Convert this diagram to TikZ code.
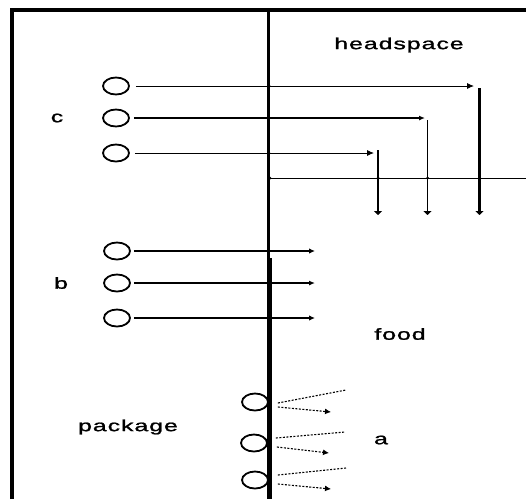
\documentclass[tikz,border=0pt]{standalone}
\usepackage{fontspec}
\usepackage{graphicx}
\setmainfont{Liberation Sans}[LetterSpace=4,FakeBold=1.2]
\usetikzlibrary{shapes.geometric,arrows.meta}
\newcommand{\wide}[1]{\scalebox{1.55}[1]{#1}}
\begin{document}
\begin{tikzpicture}[x=1pt,y=-1pt,
  hole/.style={ellipse,draw,line width=1.8pt,minimum width=26pt,minimum height=17pt,inner sep=0pt},
  lbl/.style={font=\fontsize{16}{18}\selectfont,inner sep=0pt},
  thinarr/.style={line width=0.9pt,-{Latex[length=7pt,width=6pt]}},
  thickarr/.style={line width=2.2pt,-{Latex[length=6pt,width=5pt]}},
  medarr/.style={line width=1.4pt,-{Latex[length=6pt,width=5.5pt]}},
  downarr/.style={-{Triangle[length=4pt,width=8pt]}},
  dotarr/.style={line width=1.1pt,dash pattern=on 2pt off 1.5pt},
  jdot/.style={circle,fill,inner sep=0pt,minimum size=3pt}]
\useasboundingbox (0,0) rectangle (526,499);
% frame
\draw[line width=4pt] (12,499) -- (12,10) -- (526,10);
\draw[line width=2.5pt] (268.5,10) -- (268.5,499);
\draw[line width=3pt] (270.5,258) -- (270.5,499);
% labels
\node[lbl] (hs) at (399,45) {\wide{headspace}};
\node[lbl] (lc) at (57,118) {\wide{c}};
\node[lbl] (lb) at (61,283) {\wide{b}};
\node[lbl] (lf) at (400,334) {\wide{food}};
\node[lbl] (lp) at (128,427) {\wide{package}};
\node[lbl] (la) at (381,440) {\wide{a}};
% c holes
\node[hole] (c1) at (116,86) {};
\node[hole] (c2) at (116,118) {};
\node[hole] (c3) at (116,153) {};
\coordinate (t1) at (474,86);
\coordinate (t2) at (425,118);
\coordinate (t3) at (374,153);
\draw[thinarr] ([xshift=6pt]c1.east) -- (t1);
\draw[thickarr] ([xshift=4pt]c2.east) -- (t2);
\draw[thinarr] ([xshift=5pt]c3.east) -- (t3);
\coordinate (v1t) at (479.5,88);
\coordinate (v1b) at (479.5,215);
\coordinate (v2t) at (427.5,120);
\coordinate (v2b) at (427.5,215);
\coordinate (v3t) at (378,150);
\coordinate (v3b) at (378,215);
\draw[line width=2.6pt,downarr] (v1t) -- (v1b);
\draw[line width=1.5pt,downarr] (v2t) -- (v2b);
\draw[line width=2.6pt,downarr] (v3t) -- (v3b);
\coordinate (hl) at (270,178);
\coordinate (hr) at (526,178);
\draw[line width=0.9pt] (hl) -- (hr);
\node[jdot] (j0) at (270,178) {};
\node[jdot] (j1) at (378,178) {};
\node[jdot] (j2) at (427.5,178) {};
\node[jdot] (j3) at (269,86) {};
\node[jdot] (j4) at (269,153) {};
% b holes
\node[hole] (b1) at (117,251) {};
\node[hole] (b2) at (117,283) {};
\node[hole] (b3) at (117,318) {};
\coordinate (s1) at (315,251);
\coordinate (s2) at (315,283);
\coordinate (s3) at (315,318);
\draw[medarr] ([xshift=3pt]b1.east) -- (s1);
\draw[thickarr] ([xshift=3pt]b2.east) -- (s2);
\draw[medarr] ([xshift=3pt]b3.east) -- (s3);
% a holes
\node[hole] (a1) at (255,402) {};
\node[hole] (a2) at (254,443) {};
\node[hole] (a3) at (255,480) {};
\coordinate (p1) at (346,390);
\coordinate (q1) at (331,412);
\coordinate (p2) at (345,432);
\coordinate (q2) at (329,453);
\coordinate (p3) at (346,468);
\coordinate (q3) at (331,489);
\draw[dotarr] ([xshift=9pt,yshift=-1pt]a1.east) -- (p1);
\draw[dotarr,-{Latex[length=6pt,width=6pt]}] ([xshift=9pt,yshift=-5pt]a1.east) -- (q1);
\draw[dotarr] ([xshift=8pt,yshift=5pt]a2.east) -- (p2);
\draw[dotarr,-{Latex[length=6pt,width=6pt]}] ([xshift=9pt,yshift=-4pt]a2.east) -- (q2);
\draw[dotarr] ([xshift=9pt,yshift=5pt]a3.east) -- (p3);
\draw[dotarr,-{Latex[length=6pt,width=6pt]}] ([xshift=9pt,yshift=-4pt]a3.east) -- (q3);
\end{tikzpicture}
\end{document}
